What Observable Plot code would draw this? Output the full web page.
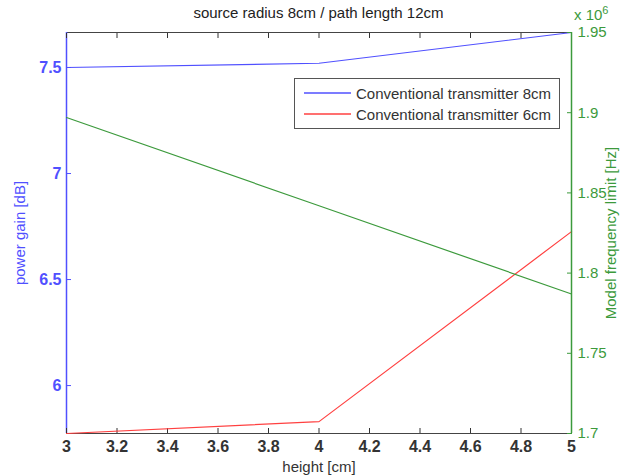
<!DOCTYPE html>
<html>
<head>
<meta charset="utf-8">
<script src="https://cdn.jsdelivr.net/npm/d3@7"></script>
<script src="https://cdn.jsdelivr.net/npm/@observablehq/plot@0.6"></script>
<style>
  html, body { margin: 0; padding: 0; background: #fff; }
  #wrap { position: relative; width: 633px; height: 476px; font-family: "Liberation Sans", Arial, sans-serif; }
  #wrap > svg { position: absolute; left: 0; top: 0; }
  .title { position: absolute; top: 4px; left: 66px; width: 505px; text-align: center; font-size: 15px; color: #222; }
  .exp { position: absolute; top: 4px; left: 574px; font-size: 15px; color: #3c9a3c; }
  .exp sup { font-size: 11px; }
  .legend { position: absolute; left: 294px; top: 78px; width: 266px; height: 51px; border: 1.5px solid #555; background: #fff; box-sizing: border-box; font-size: 15px; color: #333; }
  .legend .row { position: absolute; left: 9px; height: 18px; display: flex; align-items: center; }
  .legend .sw { display: block; margin-right: 5px; }
</style>
</head>
<body>
<div id="wrap"></div>
<script>
// ---- data ----
const heights = [3, 4, 5];
const gain8 = [7.5, 7.52, 7.665];        // Conventional transmitter 8cm [dB]
const gain6 = [5.774, 5.83, 6.726];      // Conventional transmitter 6cm [dB]
const freqLimit = [1.897, 1.842, 1.787]; // Model frequency limit [x10^6 Hz]
const xTicks = [3, 3.2, 3.4, 3.6, 3.8, 4, 4.2, 4.4, 4.6, 4.8, 5];
const gainTicks = [6, 6.5, 7, 7.5];
const freqTicks = [1.7, 1.75, 1.8, 1.85, 1.9, 1.95];
const xDomain = [3, 5];
const gainDomain = [5.774, 7.665];
const freqDomain = [1.7, 1.95];
const seriesNames = ["Conventional transmitter 8cm", "Conventional transmitter 6cm"];

const BLUE = "#5050ff", RED = "#ff4040", GREEN = "#3c9a3c", DARK = "#333";
const W = 633, H = 476, ML = 66, MR = 62, MT = 32, MB = 43;

const rows = [];
heights.forEach((h, i) => {
  rows.push({h, v: gain8[i], s: seriesNames[0]});
  rows.push({h, v: gain6[i], s: seriesNames[1]});
});
const fRows = heights.map((h, i) => ({h, v: freqLimit[i]}));

const common = {
  width: W, height: H, marginLeft: ML, marginRight: MR, marginTop: MT, marginBottom: MB,
  style: {background: "transparent", fontFamily: "Liberation Sans, Arial, sans-serif", fontSize: "15px", overflow: "visible"}
};

const p1 = Plot.plot({
  ...common,
  x: {domain: xDomain},
  y: {domain: gainDomain},
  color: {domain: seriesNames, range: [BLUE, RED]},
  marks: [
    Plot.ruleY([gainDomain[1]], {stroke: "#444", strokeWidth: 1.2}),
    Plot.ruleY([gainDomain[0]], {stroke: "#444", strokeWidth: 1.2}),
    Plot.ruleX([xDomain[0]], {stroke: BLUE, strokeWidth: 1.5}),
    Plot.axisX({anchor: "bottom", ticks: xTicks, tickSize: -5, tickPadding: 12, tickFormat: d => String(d),
      color: DARK, fontSize: 16, fontWeight: "bold", label: null}),
    Plot.axisX({anchor: "bottom", ticks: [], label: "height [cm]", labelAnchor: "center", labelOffset: 38, labelArrow: "none", color: DARK, fontSize: 15}),
    Plot.axisX({anchor: "top", ticks: xTicks, tickSize: -5, text: null, label: null, color: DARK}),
    Plot.axisY({anchor: "left", ticks: gainTicks, tickSize: -5, tickPadding: 10, tickFormat: d => String(d),
      color: BLUE, fontSize: 16, fontWeight: "bold", label: null}),
    Plot.axisY({anchor: "left", ticks: [], label: "power gain [dB]", labelAnchor: "center", labelOffset: 52, labelArrow: "none", color: BLUE, fontSize: 15}),
    Plot.line(rows, {x: "h", y: "v", z: "s", stroke: "s", strokeWidth: 1.2})
  ]
});

const p2 = Plot.plot({
  ...common,
  x: {domain: xDomain, axis: null},
  y: {domain: freqDomain},
  marks: [
    Plot.ruleX([xDomain[1]], {stroke: GREEN, strokeWidth: 1.5}),
    Plot.axisY({anchor: "right", ticks: freqTicks, tickSize: -5, tickPadding: 11, tickFormat: d => String(d),
      color: GREEN, fontSize: 15, label: "Model frequency limit [Hz]", labelAnchor: "center", labelOffset: 44, labelArrow: "none"}),
    Plot.line(fRows, {x: "h", y: "v", stroke: GREEN, strokeWidth: 1.2})
  ]
});

const wrap = document.getElementById("wrap");
wrap.appendChild(p1);
wrap.appendChild(p2);

const t = document.createElement("div");
t.className = "title";
t.textContent = "source radius 8cm / path length 12cm";
wrap.appendChild(t);

const e = document.createElement("div");
e.className = "exp";
e.innerHTML = "x 10<sup>6</sup>";
wrap.appendChild(e);

const lg = document.createElement("div");
lg.className = "legend";
[BLUE, RED].forEach((c, i) => {
  const r = document.createElement("div");
  r.className = "row";
  r.style.top = (5 + i * 21) + "px";
  const sw = document.createElementNS("http://www.w3.org/2000/svg", "svg");
  sw.setAttribute("width", "47");
  sw.setAttribute("height", "4");
  sw.setAttribute("class", "sw");
  const ln = document.createElementNS("http://www.w3.org/2000/svg", "line");
  ln.setAttribute("x1", "0"); ln.setAttribute("x2", "47");
  ln.setAttribute("y1", "2"); ln.setAttribute("y2", "2");
  ln.setAttribute("stroke", c);
  ln.setAttribute("stroke-width", "1.3");
  sw.appendChild(ln);
  const tx = document.createElement("span");
  tx.textContent = seriesNames[i];
  r.appendChild(sw); r.appendChild(tx);
  lg.appendChild(r);
});
wrap.appendChild(lg);
</script>
</body>
</html>
